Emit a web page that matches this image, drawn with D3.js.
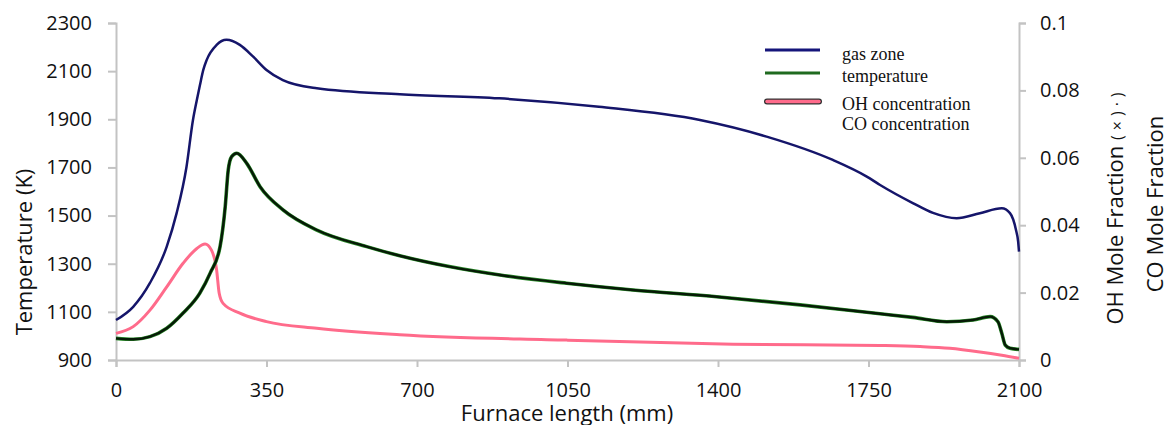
<!DOCTYPE html>
<html>
<head>
<meta charset="utf-8">
<script src="https://cdn.jsdelivr.net/npm/d3@7"></script>
<style>
  body { margin: 0; background: #fff; }
  svg { display: block; }
</style>
</head>
<body>
<svg width="1169" height="425"></svg>
<script>
// furnace position (mm) and values
var gasZone = [
  [0,1066],[40,1121],[79,1220],[118,1371],[141,1510],[164,1703],[179,1897],[188,1980],[195,2040],
  [203,2105],[211,2147],[234,2209],[257,2230],[288,2209],[319,2160],[350,2105],[388,2063],[467,2029],
  [660,2004],[891,1987],[1123,1952],[1358,1897],[1513,1828],[1667,1731],[1746,1662],
  [1777,1627],[1853,1552],[1900,1511],[1955,1489],[2009,1510],[2060,1530],[2079,1510],
  [2093,1440],[2098,1392],[2100,1350]
];
var temperature = [
  [0,990],[40,986],[79,997],[118,1032],[156,1095],[195,1178],[219,1261],[242,1371],
  [254,1537],[261,1689],[269,1745],[281,1759],[304,1717],[335,1620],[389,1523],[467,1440],
  [583,1371],[660,1333],[775,1288],[893,1253],[1048,1219],[1202,1191],[1397,1163],
  [1591,1129],[1777,1092],[1853,1077],[1932,1059],[1993,1066],[2033,1080],[2051,1059],
  [2060,1011],[2068,962],[2079,949],[2100,944]
];
var ohConc = [
  [0,0.0079],[40,0.0099],[79,0.0148],[118,0.0217],[156,0.0287],[188,0.0331],[207,0.0344],
  [222,0.0326],[234,0.0267],[240,0.0198],[249,0.0168],[288,0.0139],[350,0.0114],[467,0.0094],
  [660,0.0075],[1048,0.0059],[1435,0.0047],[1777,0.0043],[1870,0.0040],[1939,0.0035],
  [2009,0.0024],[2060,0.0014],[2100,0.0005]
];
var xTicks = [0,350,700,1050,1400,1750,2100];
var tTicks = [900,1100,1300,1500,1700,1900,2100,2300];
var fTicks = [0,0.02,0.04,0.06,0.08,0.1];
var legendLabels = ['gas zone','temperature','OH concentration','CO concentration'];

var svg = d3.select('svg');
var plotL = 116, plotR = 1019, plotT = 23, plotB = 360;

var x = d3.scaleLinear().domain([0,2100]).range([plotL,plotR]);
var yT = d3.scaleLinear().domain([900,2300]).range([plotB,plotT]);
var yF = d3.scaleLinear().domain([0,0.1]).range([plotB,plotT]);

var font = "'Open Sans', sans-serif";

function styleAxis(g){
  g.select('.domain').attr('stroke','#c3c3c3').attr('stroke-width',2);
  g.selectAll('.tick line').attr('stroke','#c3c3c3').attr('stroke-width',2);
  g.selectAll('.tick text').attr('fill','#111').style('font-family',font).style('font-size','20px');
}

svg.append('g').attr('transform','translate(0,'+plotB+')')
  .call(d3.axisBottom(x).tickValues(xTicks).tickSizeOuter(0).tickSize(7).tickPadding(16)
    .tickFormat(function(d){ return String(d); }))
  .call(styleAxis);
svg.append('g').attr('transform','translate('+plotL+',0)')
  .call(d3.axisLeft(yT).tickValues(tTicks).tickSizeOuter(0).tickSize(8).tickPadding(16)
    .tickFormat(function(d){ return String(d); }))
  .call(styleAxis);
svg.append('g').attr('transform','translate('+plotR+',0)')
  .call(d3.axisRight(yF).tickValues(fTicks).tickSizeOuter(0).tickSize(7).tickPadding(14)
    .tickFormat(function(d){ return d === 0 ? '0' : String(+d.toFixed(2)); }))
  .call(styleAxis);

// lines
var lineT = d3.line().x(function(d){return x(d[0]);}).y(function(d){return yT(d[1]);}).curve(d3.curveMonotoneX);
var lineF = d3.line().x(function(d){return x(d[0]);}).y(function(d){return yF(d[1]);}).curve(d3.curveMonotoneX);

svg.append('path').attr('d',lineF(ohConc)).attr('fill','none')
  .attr('stroke','#ff6b8b').attr('stroke-width',3);
svg.append('path').attr('d',lineT(temperature)).attr('fill','none')
  .attr('stroke','#2a8a2a').attr('stroke-width',3.6);
svg.append('path').attr('d',lineT(temperature)).attr('fill','none')
  .attr('stroke','#061a06').attr('stroke-width',2.4);
svg.append('path').attr('d',lineT(gasZone)).attr('fill','none')
  .attr('stroke','#15156a').attr('stroke-width',2.5);

// axis titles
svg.append('text').attr('transform','translate(32,252) rotate(-90)')
  .attr('text-anchor','middle').style('font-family',font).style('font-size','22px')
  .attr('fill','#111').text('Temperature (K)');
svg.append('text').attr('x',567).attr('y',421)
  .attr('text-anchor','middle').style('font-family',font).style('font-size','22px')
  .attr('fill','#111').text('Furnace length (mm)');
var oh = svg.append('text').attr('transform','translate(1123,206) rotate(-90)')
  .attr('text-anchor','middle').style('font-family',font).style('font-size','22px')
  .attr('fill','#111');
oh.append('tspan').text('OH Mole Fraction ');
oh.append('tspan').style('font-size','16px').style('letter-spacing','5px').text('(×)·)');
svg.append('text').attr('transform','translate(1163,204) rotate(-90)')
  .attr('text-anchor','middle').style('font-family',font).style('font-size','22px')
  .attr('fill','#111').text('CO Mole Fraction');

// legend
var lg = svg.append('g');
lg.append('line').attr('x1',765).attr('x2',820).attr('y1',50).attr('y2',50)
  .attr('stroke','#15157a').attr('stroke-width',3.2);
lg.append('line').attr('x1',765).attr('x2',820).attr('y1',73).attr('y2',73)
  .attr('stroke','#1f6a1f').attr('stroke-width',3.2);
lg.append('line').attr('x1',767).attr('x2',819).attr('y1',101.5).attr('y2',101.5)
  .attr('stroke','#333').attr('stroke-width',6).attr('stroke-linecap','round');
lg.append('line').attr('x1',767).attr('x2',819).attr('y1',101.5).attr('y2',101.5)
  .attr('stroke','#ff6b8b').attr('stroke-width',3.5).attr('stroke-linecap','round');
var ly = [60,82,110,130];
lg.selectAll('text.lab').data(legendLabels).enter().append('text')
  .attr('x',842).attr('y',function(d,i){return ly[i];})
  .style('font-family',"'Liberation Serif', 'Times New Roman', serif").style('font-size','18px')
  .attr('fill','#111').text(function(d){return d;});
</script>
</body>
</html>
